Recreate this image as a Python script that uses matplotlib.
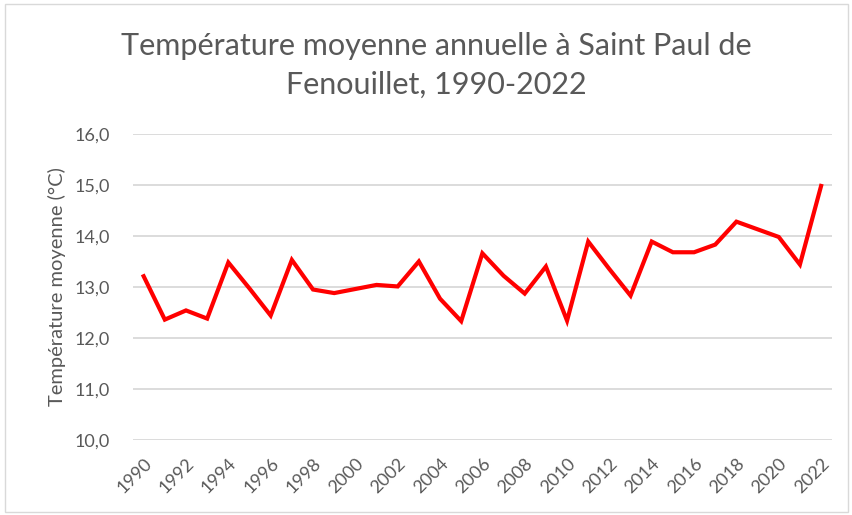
import numpy as np
import matplotlib.pyplot as plt
from matplotlib.patches import Rectangle
from matplotlib.ticker import FuncFormatter

years = list(range(1990, 2023))
temps = [13.21, 12.36, 12.54, 12.38, 13.48, 12.97, 12.44, 13.53, 12.95, 12.88,
         12.96, 13.04, 13.01, 13.50, 12.77, 12.33, 13.66, 13.22, 12.87, 13.40,
         12.34, 13.89, 13.35, 12.83, 13.89, 13.68, 13.68, 13.83, 14.28, 14.13,
         13.98, 13.44, 14.98]
yticks = [10, 11, 12, 13, 14, 15, 16]
xticks = years[::2]

title = "Température moyenne annuelle à Saint Paul de\nFenouillet, 1990-2022"
ylabel = "Température moyenne (°C)"

plt.rcParams["font.family"] = ["Lato", "DejaVu Sans"]
gray = "#595959"

fig = plt.figure(figsize=(8.53, 5.15), dpi=100)
ax = fig.add_axes([0.156, 0.1456, 0.819, 0.5944])

ax.plot(years, temps, color="#ff0000", lw=3, solid_joinstyle="miter", zorder=3)

ax.set_xlim(1989.5, 2022.5)
ax.set_ylim(10, 16)
ax.set_yticks(yticks)
ax.set_xticks(xticks)
ax.set_xticklabels([str(y) for y in xticks], rotation=45, ha="right",
                   rotation_mode="anchor", fontsize=13, color=gray)
ax.yaxis.set_major_formatter(FuncFormatter(lambda v, p: f"{v:.1f}".replace(".", ",")))
ax.tick_params(axis="y", labelsize=13, labelcolor=gray, length=0, pad=17)
ax.tick_params(axis="x", length=0, pad=11)
ax.grid(axis="y", color="#d9d9d9", lw=1.3)
ax.set_axisbelow(True)
for s in ax.spines.values():
    s.set_visible(False)

ax.set_ylabel(ylabel, fontsize=14.5, color=gray, labelpad=6)
fig.text(0.512, 0.873, title, ha="center", va="center", fontsize=22,
         color=gray, linespacing=1.45)

fig.patches.append(Rectangle((0.006, 0.006), 0.988, 0.986, transform=fig.transFigure,
                             fill=False, edgecolor="#d9d9d9", lw=1))

fig.savefig("out.png", dpi=100)
